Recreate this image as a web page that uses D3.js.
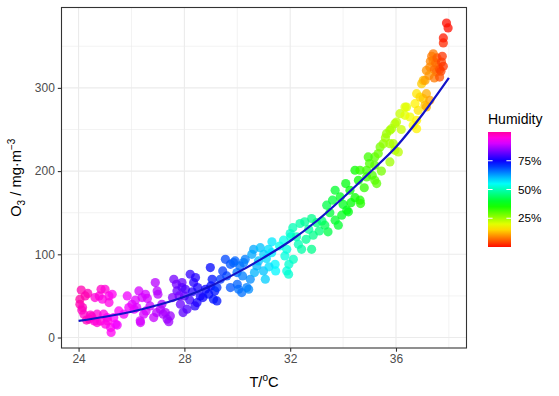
<!DOCTYPE html>
<html>
<head>
<meta charset="utf-8">
<script src="https://cdn.jsdelivr.net/npm/d3@7"></script>
<style>
body { margin: 0; background: #fff; }
text { font-family: "Liberation Sans", Arial, sans-serif; }
</style>
</head>
<body>
<div id="chart"></div>
<script>
// Observations: temperature (°C), ozone (mg/m3), humidity (fraction)

var temp = [
  24.05, 24.1, 24.35, 24.05, 24.12, 24.2, 24.4, 24.6, 24.7, 24.85, 25.0, 24.78, 24.9, 25.15, 25.27, 25.15, 24.95,
  25.08, 24.83, 25.02, 25.21, 25.4, 25.23, 25.33, 25.52, 25.46, 24.5, 24.3, 24.62, 24.45, 24.25, 24.15, 25.1, 24.7,
  25.84, 25.71, 26.02, 26.1, 26.28, 26.53, 26.6, 26.34, 26.46, 26.33, 26.9, 26.97, 26.84, 27.09, 27.28, 27.47,
  27.41, 26.2, 26.7, 27.0, 26.95, 27.2, 26.4, 25.9, 27.35, 26.15, 26.55, 27.15,
  27.6, 27.7, 27.91, 27.72, 27.91, 28.04, 27.85, 28.1, 28.0, 28.2, 27.95, 27.55, 27.8,
  28.22, 28.42, 28.48, 28.6, 28.3, 28.5, 28.7, 28.8, 28.92, 29.0, 29.1, 29.23, 29.15, 28.4, 28.98, 28.35, 29.05,
  29.36, 29.55, 29.74, 29.86, 29.92, 29.74, 30.05, 30.17, 30.43, 30.36, 30.3, 30.24, 29.6, 29.99, 29.23, 29.45,
  30.1, 30.0, 30.49, 30.2,
  30.55, 30.62, 30.87, 31.18, 31.31, 30.74, 30.99, 31.06, 31.43, 31.0, 31.2, 30.8, 31.3, 30.65, 31.1, 31.45,
  31.75, 31.8, 31.87, 31.87, 31.94, 32.0, 32.02, 32.12, 32.24, 32.31, 32.43, 32.37, 32.55, 32.81, 32.87, 32.81,
  32.7, 32.6, 33.0, 33.1, 31.6, 32.1, 33.2, 31.95,
  33.38, 33.43, 33.31, 33.7, 33.82, 33.95, 34.2, 34.14, 33.7, 33.89, 34.26, 33.5, 34.0, 34.3, 34.45, 34.58,
  34.45, 34.64, 34.1, 33.6,
  34.66, 34.64, 34.89, 34.89, 35.0, 35.2, 35.2, 35.27, 35.2, 34.95, 35.33, 34.8, 35.1, 35.4, 35.45,
  35.52, 35.77, 35.77, 35.96, 35.77, 35.96, 35.9, 36.09, 35.83, 35.64, 36.02, 36.15, 36.34, 36.34, 36.4, 36.53,
  36.65, 35.6, 36.2,
  36.72, 36.78, 36.84, 36.91, 36.78, 36.78, 36.97, 37.03, 37.03, 37.1,
  37.15, 37.28, 37.15, 37.15, 37.28, 37.41, 37.41, 37.53, 37.6, 37.1, 37.3, 37.45,
  37.5, 37.65, 37.35, 37.55, 37.7, 37.25, 37.45,
  37.72, 37.65, 37.79, 37.75, 37.79, 37.79, 37.91, 37.97
];

var ozone = [
  46, 57, 53, 40, 33, 28, 22, 20, 28, 58, 58, 50, 46, 50, 52, 42, 28,
  24, 20, 16, 12, 16, 6, 24, 32, 15, 25, 21, 48, 27, 50, 36, 20, 18,
  50, 28, 40, 34, 56, 52, 47, 18, 28, 20, 66, 56, 24, 34, 30, 26,
  19, 36, 38, 52, 30, 28, 48, 36, 22, 45, 32, 40,
  70, 64, 66, 56, 60, 58, 40, 34, 50, 45, 30, 48, 50,
  76, 72, 42, 50, 55, 60, 48, 58, 52, 62, 46, 44, 56, 38, 84, 66, 70,
  70, 94, 88, 90, 92, 60, 58, 54, 58, 60, 94, 90, 74, 78, 60, 80,
  86, 64, 70, 74,
  100, 106, 108, 106, 115, 86, 80, 70, 88, 100, 85, 92, 102, 78, 95, 80,
  117, 98, 106, 80, 76, 125, 121, 94, 121, 112, 106, 137, 139, 143, 123, 106,
  130, 118, 138, 128, 110, 132, 140, 88,
  159, 127, 135, 141, 135, 147, 151, 153, 177, 169, 177, 150, 160, 162, 168, 189,
  201, 165, 185, 165,
  161, 201, 201, 193, 209, 217, 207, 185, 189, 217, 221, 180, 195, 229, 200,
  233, 233, 211, 257, 249, 225, 233, 223, 251, 245, 259, 269, 277, 267, 277, 265,
  255, 240, 250,
  281, 293, 273, 289, 261, 251, 305, 309, 287, 279,
  293, 285, 277, 321, 325, 341, 333, 319, 325, 309, 332, 322,
  330, 322, 338, 336, 320, 315, 312,
  331, 313, 326, 338, 354, 360, 378, 372
];

var humidity = [
  1.0, 0.99, 0.98, 0.99, 0.98, 0.97, 0.97, 0.96, 0.96, 0.97, 0.96, 0.96, 0.95, 0.95, 0.94, 0.95, 0.95,
  0.94, 0.96, 0.95, 0.94, 0.93, 0.94, 0.93, 0.93, 0.92, 0.97, 0.98, 0.96, 0.97, 0.99, 0.98, 0.95, 0.96,
  0.92, 0.92, 0.91, 0.91, 0.9, 0.9, 0.9, 0.9, 0.9, 0.9, 0.88, 0.88, 0.89, 0.88, 0.87, 0.86,
  0.86, 0.91, 0.89, 0.88, 0.88, 0.87, 0.9, 0.92, 0.86, 0.91, 0.9, 0.87,
  0.83, 0.83, 0.82, 0.82, 0.81, 0.8, 0.82, 0.8, 0.81, 0.79, 0.81, 0.84, 0.83,
  0.78, 0.77, 0.76, 0.76, 0.77, 0.76, 0.75, 0.75, 0.74, 0.74, 0.73, 0.73, 0.73, 0.77, 0.74, 0.77, 0.73,
  0.7, 0.69, 0.68, 0.67, 0.67, 0.68, 0.66, 0.66, 0.64, 0.65, 0.65, 0.65, 0.69, 0.66, 0.71, 0.7,
  0.66, 0.67, 0.64, 0.65,
  0.62, 0.62, 0.6, 0.58, 0.57, 0.61, 0.6, 0.59, 0.56, 0.59, 0.58, 0.6, 0.57, 0.61, 0.58, 0.56,
  0.54, 0.53, 0.53, 0.53, 0.52, 0.52, 0.52, 0.51, 0.5, 0.5, 0.49, 0.49, 0.48, 0.47, 0.47, 0.47,
  0.48, 0.48, 0.46, 0.46, 0.54, 0.5, 0.45, 0.52,
  0.42, 0.42, 0.43, 0.4, 0.4, 0.39, 0.38, 0.38, 0.4, 0.39, 0.37, 0.41, 0.39, 0.37, 0.36, 0.36,
  0.36, 0.35, 0.38, 0.41,
  0.34, 0.33, 0.32, 0.32, 0.31, 0.3, 0.3, 0.3, 0.3, 0.32, 0.29, 0.33, 0.31, 0.28, 0.28,
  0.26, 0.25, 0.25, 0.24, 0.25, 0.24, 0.24, 0.23, 0.24, 0.25, 0.23, 0.22, 0.2, 0.2, 0.2, 0.19,
  0.18, 0.25, 0.22,
  0.17, 0.16, 0.16, 0.15, 0.17, 0.17, 0.14, 0.13, 0.14, 0.13,
  0.12, 0.11, 0.12, 0.1, 0.09, 0.08, 0.08, 0.07, 0.06, 0.11, 0.09, 0.07,
  0.07, 0.05, 0.08, 0.06, 0.04, 0.1, 0.08,
  0.04, 0.05, 0.03, 0.03, 0.02, 0.01, 0.0, 0.0
];

// Fitted curve
var fitTemp = [24, 25, 26, 27, 28, 29, 30, 31, 32, 33, 34, 35, 36, 37, 38];
var fitOzone = [20, 25, 31, 39, 49, 62, 78, 96, 116, 140, 168, 198, 229, 268, 312];

var xTicks = [24, 28, 32, 36],
    xMinor = [26, 30, 34, 38],
    yTicks = [0, 100, 200, 300],
    yMinor = [50, 150, 250, 350],
    legendTicks = [0.25, 0.5, 0.75];

var width = 559, height = 396;
var panel = {left: 61.5, right: 466.5, top: 7.5, bottom: 348};

var data = temp.map(function(t, i) {
    return {t: t, o: ozone[i], h: humidity[i]};
});

// ggplot-style 5% expansion
var tExt = d3.extent(temp), oExt = d3.extent(ozone);
var tPad = (tExt[1] - tExt[0]) * 0.05, oPad = (oExt[1] - oExt[0]) * 0.05;

var x = d3.scaleLinear()
    .domain([tExt[0] - tPad, tExt[1] + tPad])
    .range([panel.left, panel.right]);
var y = d3.scaleLinear()
    .domain([oExt[0] - oPad, oExt[1] + oPad])
    .range([panel.bottom, panel.top]);

var hue = d3.scaleLinear()
    .domain(d3.extent(humidity))
    .range([3, 322]);
var color = function(h) { return d3.hsl(hue(h), 1, 0.5).toString(); };

var svg = d3.select("#chart").append("svg")
    .attr("width", width)
    .attr("height", height);

svg.append("rect").attr("width", width).attr("height", height).attr("fill", "#fff");

// Grid
var grid = svg.append("g");
grid.selectAll(".vminor").data(xMinor).enter().append("line")
    .attr("x1", function(d) { return x(d); }).attr("x2", function(d) { return x(d); })
    .attr("y1", panel.top).attr("y2", panel.bottom)
    .attr("stroke", "#ebebeb").attr("stroke-width", 0.6);
grid.selectAll(".hminor").data(yMinor).enter().append("line")
    .attr("y1", function(d) { return y(d); }).attr("y2", function(d) { return y(d); })
    .attr("x1", panel.left).attr("x2", panel.right)
    .attr("stroke", "#ebebeb").attr("stroke-width", 0.6);
grid.selectAll(".vmajor").data(xTicks).enter().append("line")
    .attr("x1", function(d) { return x(d); }).attr("x2", function(d) { return x(d); })
    .attr("y1", panel.top).attr("y2", panel.bottom)
    .attr("stroke", "#ebebeb").attr("stroke-width", 1.1);
grid.selectAll(".hmajor").data(yTicks).enter().append("line")
    .attr("y1", function(d) { return y(d); }).attr("y2", function(d) { return y(d); })
    .attr("x1", panel.left).attr("x2", panel.right)
    .attr("stroke", "#ebebeb").attr("stroke-width", 1.1);

// Points
svg.append("g").selectAll("circle")
    .data(data)
    .enter().append("circle")
    .attr("cx", function(d) { return x(d.t); })
    .attr("cy", function(d) { return y(d.o); })
    .attr("r", 4.6)
    .attr("fill", function(d) { return color(d.h); })
    .attr("fill-opacity", 0.75);

// Fit line
var line = d3.line()
    .x(function(d, i) { return x(fitTemp[i]); })
    .y(function(d) { return y(d); })
    .curve(d3.curveCatmullRom);

svg.append("path")
    .datum(fitOzone)
    .attr("d", line)
    .attr("fill", "none")
    .attr("stroke", "#1212c8")
    .attr("stroke-width", 2.2);

// Panel border
svg.append("rect")
    .attr("x", panel.left).attr("y", panel.top)
    .attr("width", panel.right - panel.left)
    .attr("height", panel.bottom - panel.top)
    .attr("fill", "none")
    .attr("stroke", "#333")
    .attr("stroke-width", 1.1);

// Axes
var xAxis = svg.append("g")
    .attr("transform", "translate(0," + panel.bottom + ")")
    .call(d3.axisBottom(x).tickValues(xTicks).tickSize(3.7).tickPadding(3));
var yAxis = svg.append("g")
    .attr("transform", "translate(" + panel.left + ",0)")
    .call(d3.axisLeft(y).tickValues(yTicks).tickSize(3.7).tickPadding(3));

[xAxis, yAxis].forEach(function(a) {
    a.select(".domain").remove();
    a.selectAll(".tick line").attr("stroke", "#333").attr("stroke-width", 1.1);
    a.selectAll(".tick text")
        .attr("fill", "#4d4d4d")
        .style("font-size", "12px")
        .style("font-family", "'Liberation Sans', Arial, sans-serif");
});

// Axis titles
var xTitle = svg.append("text")
    .attr("x", (panel.left + panel.right) / 2)
    .attr("y", 387)
    .attr("text-anchor", "middle")
    .style("font-size", "14.7px")
    .attr("fill", "#000");
xTitle.append("tspan").text("T/");
xTitle.append("tspan").attr("dy", -6).style("font-size", "10px").text("o");
xTitle.append("tspan").attr("dy", 6).text("C");

var yTitle = svg.append("text")
    .attr("transform", "translate(21," + ((panel.top + panel.bottom) / 2) + ") rotate(-90)")
    .attr("text-anchor", "middle")
    .style("font-size", "14.7px")
    .attr("fill", "#000");
yTitle.append("tspan").text("O");
yTitle.append("tspan").attr("dy", 4).style("font-size", "10px").text("3");
yTitle.append("tspan").attr("dy", -4).text(" / mg\u00b7m");
yTitle.append("tspan").attr("dy", -6).style("font-size", "10px").text("\u22123");

// Legend
var legend = {x: 488, y: 132, w: 23, h: 115};
var hExt = d3.extent(humidity);
var ly = d3.scaleLinear().domain(hExt).range([legend.y + legend.h, legend.y]);

var grad = svg.append("defs").append("linearGradient")
    .attr("id", "humGrad")
    .attr("x1", 0).attr("y1", 1).attr("x2", 0).attr("y2", 0);
grad.selectAll("stop")
    .data(d3.range(0, 1.0001, 0.05))
    .enter().append("stop")
    .attr("offset", function(d) { return d; })
    .attr("stop-color", function(d) { return color(hExt[0] + d * (hExt[1] - hExt[0])); });

svg.append("text")
    .attr("x", legend.x)
    .attr("y", 123.5)
    .style("font-size", "14px")
    .attr("fill", "#000")
    .text("Humidity");

svg.append("rect")
    .attr("x", legend.x).attr("y", legend.y)
    .attr("width", legend.w).attr("height", legend.h)
    .attr("fill", "url(#humGrad)");

var lt = svg.append("g").selectAll("g").data(legendTicks).enter().append("g");
lt.append("line")
    .attr("x1", legend.x).attr("x2", legend.x + 4.6)
    .attr("y1", function(d) { return ly(d); }).attr("y2", function(d) { return ly(d); })
    .attr("stroke", "#fff").attr("stroke-width", 1);
lt.append("line")
    .attr("x1", legend.x + legend.w - 4.6).attr("x2", legend.x + legend.w)
    .attr("y1", function(d) { return ly(d); }).attr("y2", function(d) { return ly(d); })
    .attr("stroke", "#fff").attr("stroke-width", 1);
lt.append("text")
    .attr("x", 518)
    .attr("y", function(d) { return ly(d) + 4.2; })
    .style("font-size", "11.7px")
    .attr("fill", "#000")
    .text(function(d) { return Math.round(d * 100) + "%"; });
</script>
</body>
</html>
